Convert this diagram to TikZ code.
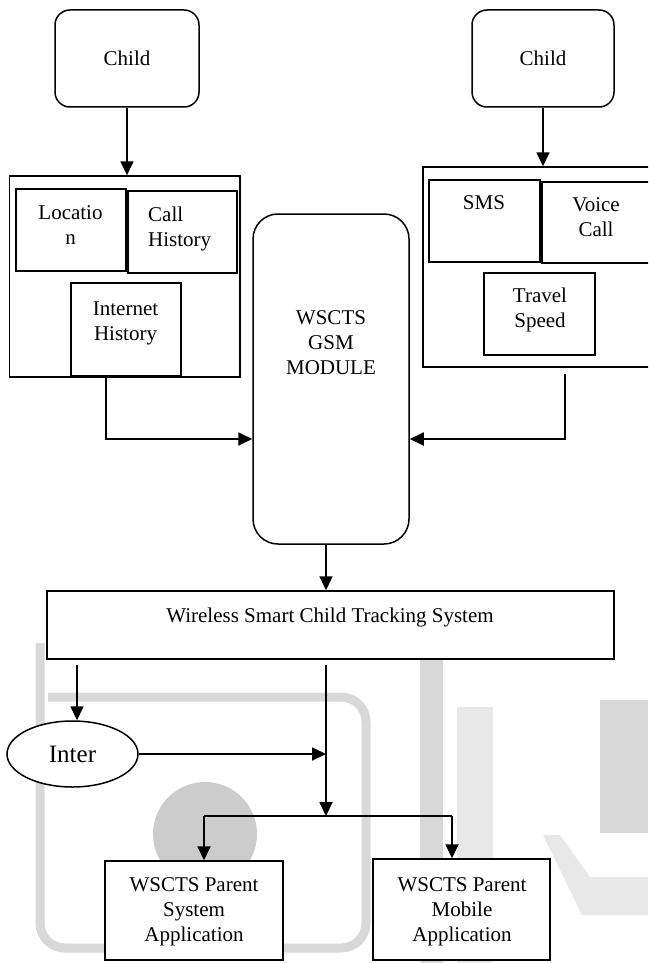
\documentclass[tikz,border=0pt]{standalone}
\usepackage{fontspec}
\setmainfont{Liberation Serif}
\usetikzlibrary{arrows.meta,shapes.geometric}
\definecolor{wmA}{HTML}{CCCCCC}
\definecolor{wmB}{HTML}{D8D8D8}
\definecolor{wmC}{HTML}{E8E8E8}
\tikzset{
  box/.style={draw=black, line width=1.5pt, fill=white, inner sep=0pt},
  rbox/.style={box, rounded corners=#1},
  lbl/.style={font=\fontsize{21}{25}\selectfont, inner sep=0pt, align=center},
  arr/.style={line width=1.8pt, -{Triangle[length=14pt,width=13pt]}},
  conn/.style={line width=1.8pt},
  wmline/.style={draw=wmB, line width=9pt},
}
\begin{document}
\begin{tikzpicture}[x=1pt,y=-1pt]
\useasboundingbox (0,0) rectangle (648,963);
\clip (0,0) rectangle (648,963);
\fill[white] (0,0) rectangle (648,963);
% watermark
\draw[wmline, rounded corners=25pt] (40,643) -- (40,948) -- (366,948) -- (366,697) -- (48,697);
\fill[wmA] (205,834) circle (52);
\fill[wmB] (420,660) rectangle (443,963);
\fill[wmC] (457,707) rectangle (493,963);
\fill[wmB] (600,700) rectangle (648,833);
\fill[wmC] (543,835) -- (560,835) -- (590,877) -- (648,877) -- (648,915) -- (582,915) -- cycle;
% top
\node[rbox=15pt, minimum width=144pt, minimum height=97pt, lbl] (lchild) at (127,58.5) {Child};
\node[rbox=15pt, minimum width=142pt, minimum height=97pt, lbl] (rchild) at (543,58.5) {Child};
% left container
\node[box, minimum width=230.5pt, minimum height=201pt] (lcont) at (124.75,276.5) {};
\node[box, minimum width=110pt, minimum height=82pt] (loc) at (71,230) {};
\node[box, minimum width=109pt, minimum height=82pt] (call) at (182.5,232) {};
\node[box, line width=2.8pt, minimum width=110pt, minimum height=93pt] (inet) at (126,329.5) {};
\node[lbl, anchor=north] (loct) at (70.5,205) {Locatio\\n};
\node[lbl, anchor=north west, align=left] (callt) at (148,207) {Call\\History};
\node[lbl, anchor=north] (inett) at (125.5,302) {Internet\\History};
% right container
\node[box, minimum width=237pt, minimum height=200pt] (rcont) at (541.5,267) {};
\node[box, minimum width=111pt, minimum height=82pt] (sms) at (484.5,221) {};
\node[box, minimum width=118pt, minimum height=81pt] (voice) at (601,222.5) {};
\node[box, minimum width=111pt, minimum height=82pt] (travel) at (539.5,314) {};
\node[lbl, anchor=north] (smst) at (484,195) {SMS};
\node[lbl, anchor=north] (voicet) at (596,197) {Voice\\Call};
\node[lbl, anchor=north] (travt) at (540,288) {Travel\\Speed};
% module
\node[rbox=25pt, minimum width=156pt, minimum height=330pt] (module) at (331,379) {};
\node[lbl, anchor=north] (modt) at (331,310) {WSCTS\\GSM\\MODULE};
% system
\node[box, minimum width=567pt, minimum height=68pt] (wscts) at (330.5,625) {};
\node[lbl, anchor=north] (wt) at (330,608) {Wireless Smart Child Tracking System};
\node[draw=black, line width=1.5pt, fill=white, ellipse, inner sep=0pt, minimum width=131pt, minimum height=66pt, font=\fontsize{25}{28}\selectfont] (inter) at (72.5,754) {Inter};
\node[box, minimum width=178pt, minimum height=99pt] (psys) at (194,910.5) {};
\node[box, minimum width=177pt, minimum height=101pt] (pmob) at (461.5,909.5) {};
\node[lbl, anchor=north] (pst) at (194,877) {WSCTS Parent\\System\\Application};
\node[lbl, anchor=north] (pmt) at (462,877) {WSCTS Parent\\Mobile\\Application};
% connectors
\coordinate (lj) at (106,439);
\coordinate (rs) at (565,374);
\coordinate (rj) at (565,439);
\coordinate (cx) at (326,665);
\coordinate (ls) at (77,665);
\coordinate (br) at (326,816);
\coordinate (bl) at (204,816);
\coordinate (brr) at (452,816);
\draw[arr] (lchild.south) -- (lchild.south |- lcont.north);
\draw[arr] (rchild.south) -- (rchild.south |- rcont.north);
\draw[arr] (lcont.south -| lj) -- (lj) -- (lj -| module.west);
\draw[arr] (rs) -- (rj) -- (rj -| module.east);
\draw[arr] (module.south -| cx) -- (wscts.north -| cx);
\draw[arr] (ls) -- (ls |- inter.north);
\draw[arr] (inter.east) -- (inter.east -| cx);
\draw[arr] (cx) -- (br);
\draw[conn] (bl) -- (brr);
\draw[arr] (bl) -- (bl |- psys.north);
\draw[arr] (brr) -- (brr |- pmob.north);
\end{tikzpicture}
\end{document}
